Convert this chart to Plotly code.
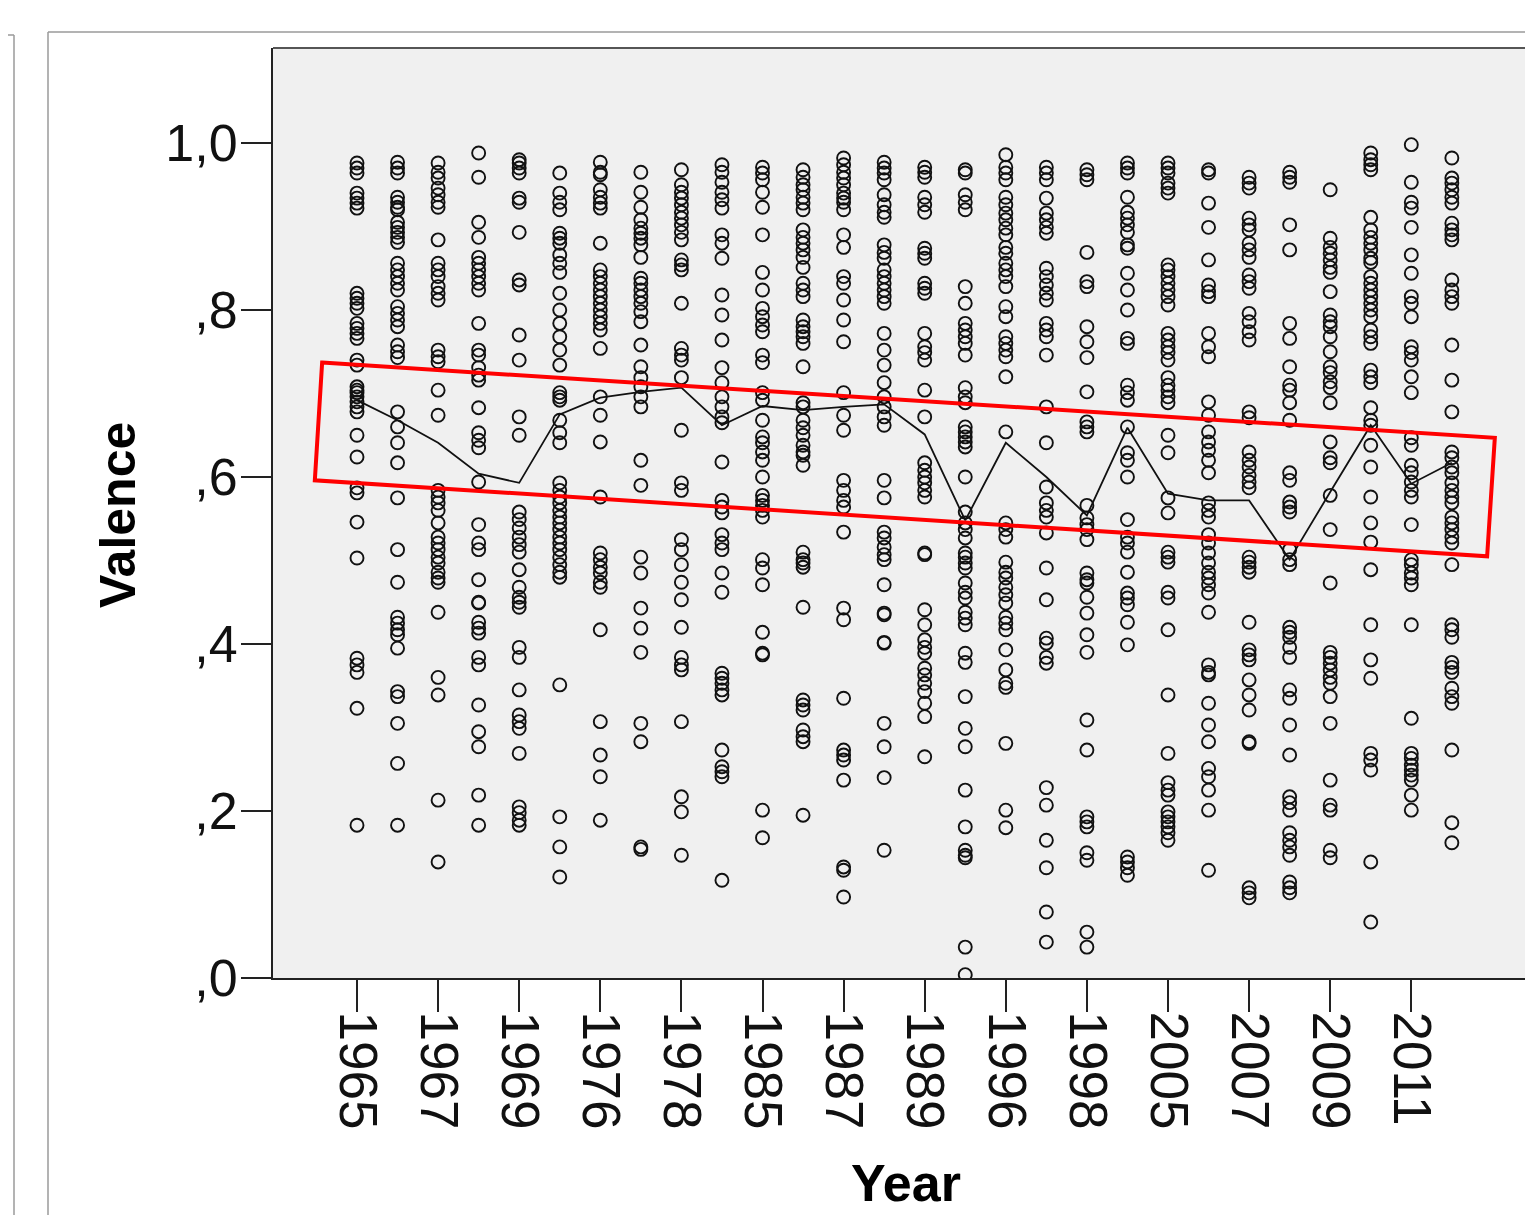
import plotly.graph_objects as go

# ---------------- data ----------------
years = ["1965", "1966", "1967", "1968", "1969", "1975", "1976", "1977", "1978", "1979",
         "1985", "1986", "1987", "1988", "1989", "1995", "1996", "1997", "1998", "1999",
         "2005", "2006", "2007", "2008", "2009", "2010", "2011", "2012"]

v1965 = [.976, .970, .964, .940, .934, .928, .922, .820, .814, .808, .802, .784, .778, .772, .766,
         .740, .734, .708, .704, .701, .696, .690, .684, .678, .650, .624, .587, .581, .546, .503,
         .383, .375, .366, .323, .183]
v1966 = [.977, .970, .964, .935, .929, .923, .920, .905, .899, .893, .887, .881, .856, .848, .840,
         .832, .824, .804, .796, .788, .780, .758, .750, .743, .678, .660, .641, .617, .575, .513,
         .474, .432, .425, .417, .411, .395, .343, .337, .305, .257, .183]
v1967 = [.976, .965, .958, .946, .938, .929, .923, .884, .856, .848, .840, .828, .820, .812, .752,
         .744, .738, .704, .674, .584, .576, .569, .560, .545, .528, .521, .513, .504, .497, .486,
         .479, .474, .438, .360, .339, .213, .139]
v1968 = [.988, .959, .905, .887, .863, .856, .848, .840, .832, .824, .784, .752, .746, .731, .722,
         .716, .683, .653, .644, .635, .594, .543, .521, .513, .477, .450, .449, .426, .419, .413,
         .384, .375, .327, .295, .277, .219, .183]
v1969 = [.980, .976, .970, .964, .934, .929, .893, .836, .830, .770, .740, .672, .650, .558, .549,
         .539, .528, .519, .510, .489, .468, .456, .450, .444, .396, .384, .345, .315, .307, .299,
         .269, .205, .198, .189, .183]
v1975 = [.964, .940, .929, .920, .892, .886, .880, .866, .856, .845, .820, .800, .784, .768, .752,
         .734, .701, .696, .692, .668, .653, .641, .593, .584, .576, .569, .560, .552, .545, .537,
         .528, .521, .513, .504, .495, .486, .480, .351, .193, .157, .121]
v1976 = [.977, .965, .962, .944, .935, .928, .922, .880, .848, .840, .832, .824, .816, .808, .800,
         .792, .784, .776, .754, .696, .674, .642, .576, .509, .501, .492, .485, .474, .468, .417,
         .307, .267, .241, .189]
v1977 = [.965, .941, .923, .908, .898, .892, .886, .878, .863, .838, .832, .824, .816, .808, .798,
         .786, .758, .732, .719, .708, .696, .684, .620, .590, .504, .485, .443, .419, .390, .305,
         .283, .157, .154]
v1978 = [.968, .950, .941, .934, .926, .917, .910, .902, .893, .884, .860, .854, .848, .808, .754,
         .746, .740, .719, .656, .593, .584, .525, .513, .495, .474, .453, .420, .384, .375, .369,
         .307, .217, .199, .147]
v1979 = [.974, .965, .953, .941, .932, .922, .890, .880, .862, .818, .794, .764, .731, .713, .696,
         .684, .672, .665, .618, .572, .564, .557, .531, .521, .513, .485, .462, .365, .359, .353,
         .345, .339, .273, .253, .247, .241, .117]
v1985 = [.971, .964, .956, .941, .923, .890, .845, .824, .802, .792, .782, .774, .746, .737, .701,
         .692, .668, .648, .641, .630, .620, .600, .578, .572, .566, .560, .552, .501, .491, .471,
         .414, .389, .387, .201, .168]
v1986 = [.968, .959, .950, .944, .935, .928, .920, .896, .887, .880, .872, .863, .851, .832, .824,
         .816, .788, .780, .774, .768, .760, .732, .689, .684, .668, .659, .650, .638, .630, .626,
         .614, .510, .501, .497, .492, .444, .333, .327, .321, .297, .289, .283, .195]
v1987 = [.982, .974, .965, .958, .950, .940, .934, .929, .920, .890, .875, .840, .832, .812, .788,
         .762, .701, .674, .656, .596, .584, .572, .564, .534, .443, .429, .335, .273, .267, .261,
         .237, .133, .129, .097]
v1988 = [.977, .970, .964, .956, .938, .926, .917, .911, .878, .869, .862, .848, .840, .832, .824,
         .816, .808, .772, .752, .734, .713, .696, .684, .672, .662, .596, .575, .534, .527, .516,
         .507, .501, .471, .437, .435, .402, .401, .305, .277, .240, .153]
v1989 = [.971, .965, .959, .935, .926, .917, .874, .868, .862, .832, .826, .820, .772, .756, .749,
         .740, .704, .672, .617, .608, .600, .593, .584, .576, .509, .507, .441, .423, .405, .396,
         .389, .371, .363, .353, .343, .329, .313, .265]
v1995 = [.968, .964, .938, .929, .920, .828, .808, .784, .776, .768, .760, .746, .707, .696, .689,
         .660, .654, .648, .642, .636, .600, .558, .545, .537, .527, .509, .504, .497, .491, .473,
         .462, .455, .438, .431, .423, .389, .378, .337, .299, .277, .225, .181, .153, .147, .144,
         .037, .004]
v1996 = [.986, .971, .964, .956, .935, .926, .916, .908, .898, .890, .875, .868, .856, .848, .840,
         .828, .804, .792, .768, .760, .752, .744, .720, .654, .545, .537, .528, .498, .486, .479,
         .468, .459, .449, .432, .425, .417, .393, .369, .353, .348, .281, .201, .180]
v1997 = [.971, .964, .956, .934, .916, .908, .899, .892, .850, .840, .830, .820, .812, .784, .776,
         .768, .746, .684, .641, .588, .569, .560, .552, .533, .491, .453, .407, .401, .384, .377,
         .228, .207, .165, .132, .079, .043]
v1998 = [.968, .962, .956, .869, .834, .828, .780, .762, .743, .702, .666, .660, .654, .566, .551,
         .543, .537, .525, .485, .477, .473, .456, .437, .411, .390, .309, .273, .193, .187, .181,
         .150, .141, .055, .037]
v1999 = [.976, .970, .964, .935, .917, .910, .902, .893, .878, .874, .844, .824, .800, .766, .760,
         .710, .701, .692, .660, .629, .620, .600, .549, .528, .521, .510, .486, .461, .455, .447,
         .426, .399, .145, .139, .132, .123]
v2005 = [.976, .970, .964, .952, .946, .940, .854, .848, .840, .832, .824, .816, .806, .772, .764,
         .756, .749, .740, .719, .710, .704, .696, .689, .650, .629, .575, .557, .510, .504, .498,
         .462, .455, .417, .339, .269, .234, .225, .219, .199, .193, .187, .181, .174, .165]
v2006 = [.968, .964, .928, .899, .860, .830, .822, .816, .772, .756, .744, .690, .674, .654, .642,
         .632, .620, .605, .569, .560, .552, .531, .521, .509, .497, .486, .479, .471, .461, .438,
         .375, .366, .363, .329, .303, .283, .251, .241, .225, .201, .129]
v2007 = [.959, .952, .946, .910, .902, .896, .880, .872, .863, .842, .834, .826, .796, .786, .774,
         .764, .678, .671, .630, .620, .612, .602, .594, .587, .504, .498, .492, .486, .426, .393,
         .387, .381, .357, .339, .321, .283, .281, .108, .102, .096]
v2008 = [.965, .959, .953, .902, .872, .784, .766, .732, .710, .704, .689, .668, .605, .596, .570,
         .564, .558, .513, .501, .495, .420, .414, .408, .396, .384, .345, .335, .303, .267, .217,
         .210, .201, .174, .165, .157, .147, .115, .108, .102]
v2009 = [.944, .886, .875, .868, .860, .851, .845, .822, .794, .786, .780, .768, .750, .732, .725,
         .714, .707, .689, .642, .623, .617, .578, .537, .473, .390, .384, .377, .369, .360, .353,
         .337, .305, .237, .207, .201, .153, .144]
v2010 = [.988, .980, .974, .968, .911, .896, .887, .880, .872, .862, .857, .840, .832, .824, .816,
         .808, .800, .792, .776, .768, .760, .728, .720, .713, .683, .668, .662, .638, .612, .576,
         .545, .522, .489, .423, .381, .359, .269, .261, .249, .139, .067]
v2011 = [.998, .953, .929, .922, .899, .866, .844, .816, .808, .792, .756, .749, .740, .720, .701,
         .647, .638, .614, .605, .594, .584, .576, .543, .501, .495, .485, .479, .471, .423, .311,
         .269, .263, .255, .249, .243, .237, .219, .201]
v2012 = [.982, .958, .952, .944, .935, .928, .904, .896, .890, .884, .836, .824, .816, .808, .758,
         .716, .678, .630, .623, .612, .605, .593, .584, .576, .569, .552, .545, .537, .528, .521,
         .495, .423, .417, .408, .378, .372, .366, .347, .337, .329, .273, .186, .162]

# mean valence per year
mean_valence = [0.692, 0.668, 0.641, 0.604, 0.593, 0.675, 0.695, 0.702, 0.707, 0.662,
                0.685, 0.680, 0.684, 0.687, 0.651, 0.548, 0.641, 0.600, 0.554, 0.659,
                0.580, 0.572, 0.572, 0.501, 0.582, 0.662, 0.592, 0.617]

y_tick_vals = [0.0, 0.2, 0.4, 0.6, 0.8, 1.0]
y_tick_text = [",0", ",2", ",4", ",6", ",8", "1,0"]

series = [v1965, v1966, v1967, v1968, v1969, v1975, v1976, v1977, v1978, v1979,
          v1985, v1986, v1987, v1988, v1989, v1995, v1996, v1997, v1998, v1999,
          v2005, v2006, v2007, v2008, v2009, v2010, v2011, v2012]

# ---------------- figure ----------------
xs, ys = [], []
for i, vals in enumerate(series):
    xs.extend([i] * len(vals))
    ys.extend(vals)

FONT = "Arial, Liberation Sans, sans-serif"

fig = go.Figure()
fig.add_trace(go.Scatter(
    x=xs, y=ys, mode="markers",
    marker=dict(symbol="circle-open", size=13, color="#111111", line=dict(width=1.9, color="#111111")),
    hoverinfo="skip", showlegend=False))
fig.add_trace(go.Scatter(
    x=list(range(len(years))), y=mean_valence, mode="lines",
    line=dict(color="#111111", width=1.8), showlegend=False))

OFF = 8                      # page body margin of the browser
W, H = 1533 - OFF, 1215 - OFF
L, T = 273 - OFF, 48 - OFF
BOTTOM = 978 - OFF
B = H - BOTTOM
plot_w = W - L
plot_h = BOTTOM - T
px_per_cat = 40.55
x_first = 357 - 273
x0 = -x_first / px_per_cat
x1 = x0 + plot_w / px_per_cat

fig.update_layout(
    width=W, height=H,
    margin=dict(l=L, r=0, t=T, b=B, pad=0),
    paper_bgcolor="white", plot_bgcolor="#F0F0F0",
    font=dict(family=FONT, color="#111111"),
    showlegend=False,
    xaxis=dict(
        range=[x0, x1], showgrid=False, zeroline=False,
        tickmode="array", tickvals=list(range(0, len(years), 2)),
        ticktext=years[0::2], tickangle=90, ticklabelstandoff=-11,
        ticks="outside", ticklen=32, tickwidth=2, tickcolor="#222222",
        showline=True, linecolor="#222222", linewidth=2,
        tickfont=dict(size=53, family=FONT, color="#111111")),
    yaxis=dict(
        range=[0, plot_h / 835], showgrid=False, zeroline=False,
        tickmode="array", tickvals=y_tick_vals, ticktext=y_tick_text,
        ticks="outside", ticklen=30, tickwidth=2, tickcolor="#222222", ticklabelstandoff=-7,
        showline=True, linecolor="#222222", linewidth=2,
        tickfont=dict(size=52, family=FONT, color="#111111")),
)

# top border of the plot frame
fig.add_shape(type="line", xref="paper", yref="paper", x0=0, x1=1, y0=1, y1=1,
              line=dict(color="#555555", width=2))

# highlighted band (red outline)
fig.add_shape(type="path", xref="x", yref="y",
              path="M -0.86,0.737 L 28.06,0.647 L 27.87,0.505 L -1.04,0.596 Z",
              line=dict(color="#FF0000", width=4), fillcolor="rgba(0,0,0,0)")

# viewer frame lines (positions given in screenshot pixels)
def px2paper_x(p):
    return (p - 273) / plot_w
def px2paper_y(p):
    return (978 - p) / plot_h
frame = dict(color="#9A9A9A", width=1.5)
fig.add_shape(type="line", xref="paper", yref="paper",
              x0=px2paper_x(48), x1=px2paper_x(48), y0=px2paper_y(32), y1=px2paper_y(1215), line=frame)
fig.add_shape(type="line", xref="paper", yref="paper",
              x0=px2paper_x(48), x1=px2paper_x(1533), y0=px2paper_y(32), y1=px2paper_y(32), line=frame)
fig.add_shape(type="line", xref="paper", yref="paper",
              x0=px2paper_x(14), x1=px2paper_x(14), y0=px2paper_y(35), y1=px2paper_y(1215), line=frame)
fig.add_shape(type="line", xref="paper", yref="paper",
              x0=px2paper_x(8), x1=px2paper_x(14), y0=px2paper_y(35), y1=px2paper_y(35), line=frame)

fig.add_annotation(text="<b>Valence</b>", xref="paper", yref="paper",
                   x=px2paper_x(118), y=px2paper_y(515), xanchor="center", yanchor="middle",
                   textangle=-90, showarrow=False,
                   font=dict(size=50, family=FONT, color="#000000"))
fig.add_annotation(text="<b>Year</b>", xref="paper", yref="paper",
                   x=px2paper_x(906), y=px2paper_y(1183), xanchor="center", yanchor="middle",
                   showarrow=False,
                   font=dict(size=52, family=FONT, color="#000000"))

fig.write_html("out.html")
